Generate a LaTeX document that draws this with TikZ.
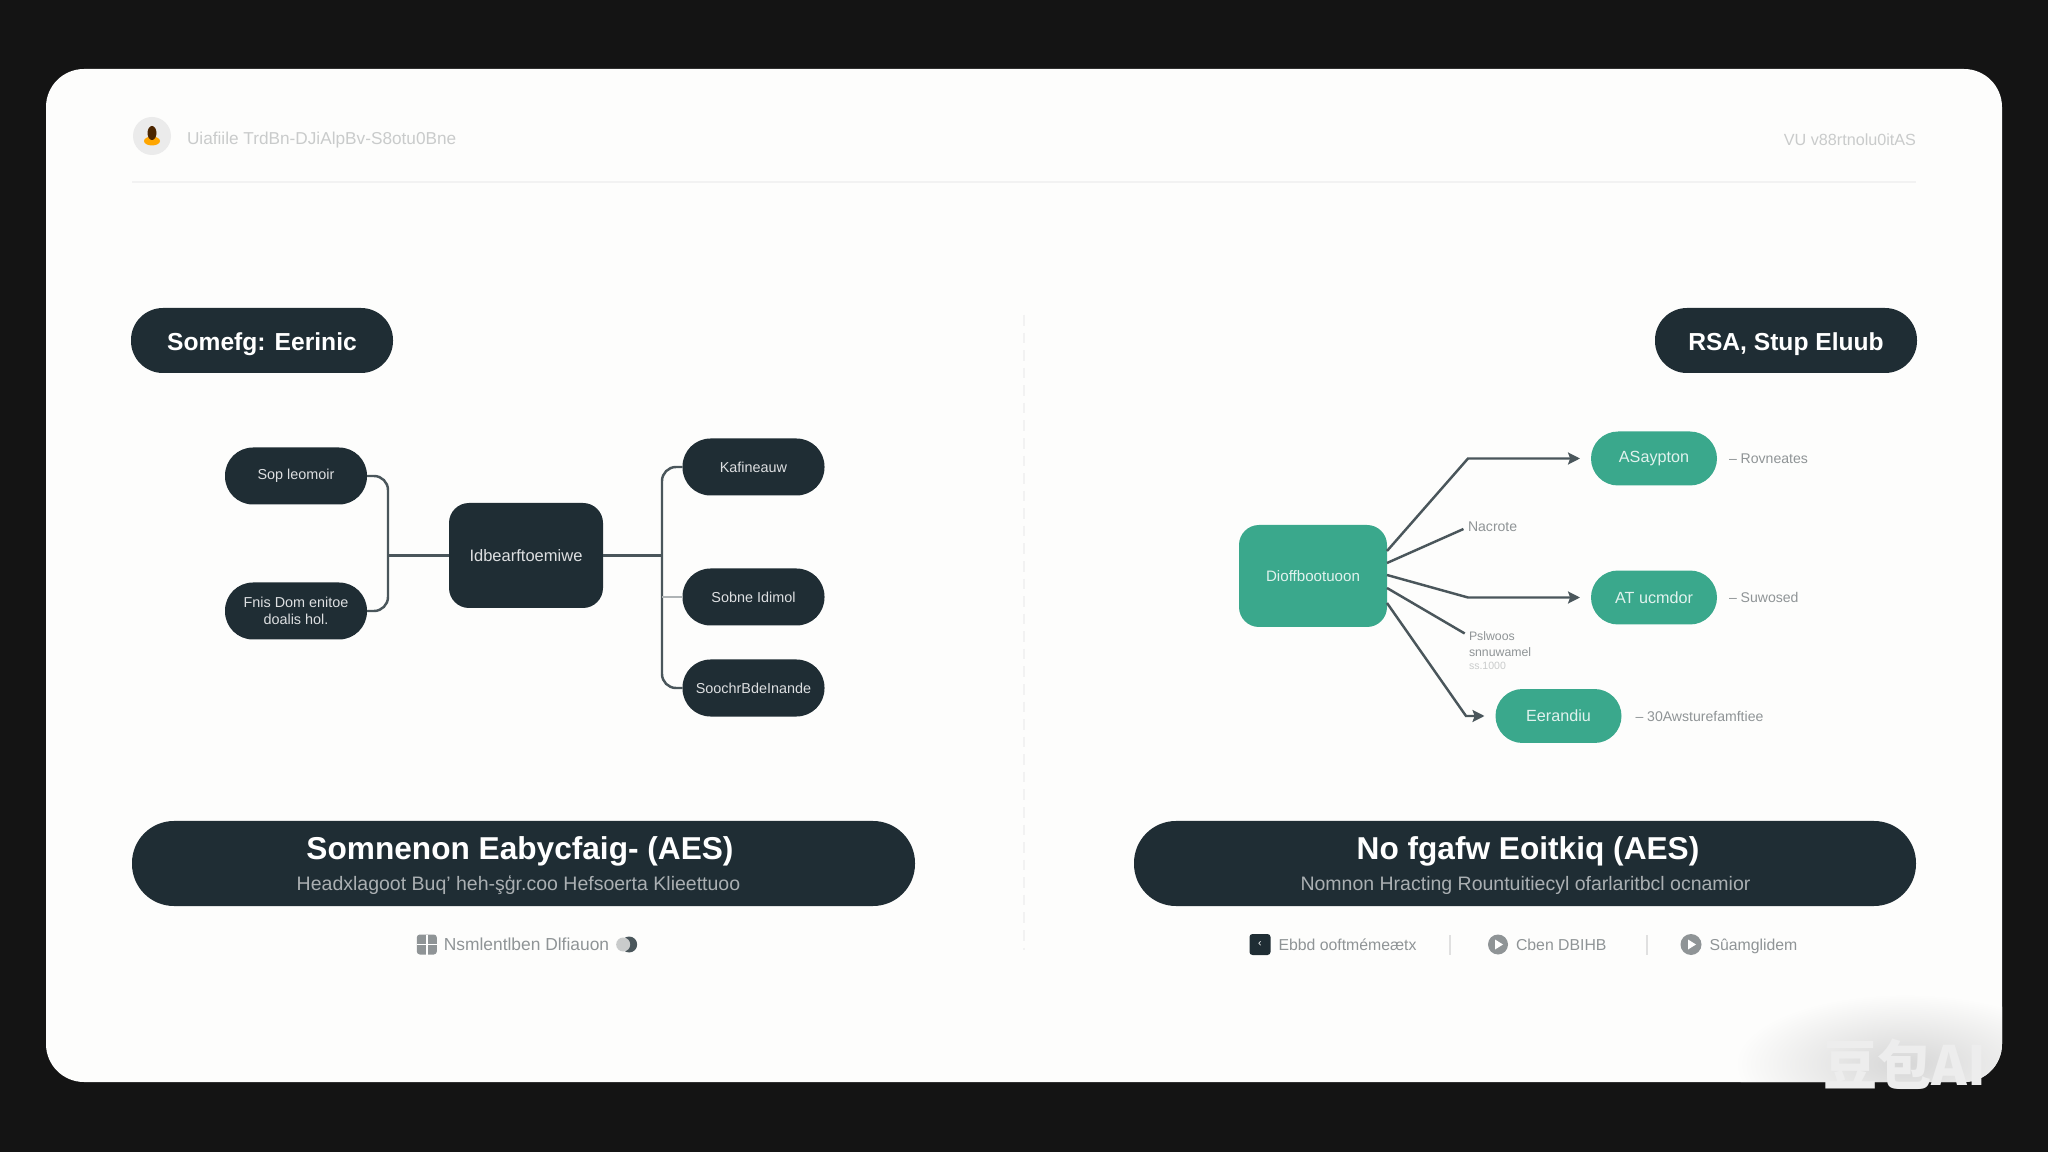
\documentclass[tikz,border=0pt]{standalone}
\usepackage{fontspec}
\setsansfont{Liberation Sans}
\newfontfamily\badgefont{Noto Sans CJK SC}
\usepackage{xcolor}
\usetikzlibrary{arrows.meta,positioning,calc}
\definecolor{slate}{HTML}{1F2D34}
\definecolor{jade}{HTML}{3AA88C}
\definecolor{wireink}{HTML}{4A565B}
\definecolor{mute}{HTML}{8F9496}
\definecolor{faint}{HTML}{C9CBCB}
\definecolor{paper}{HTML}{FDFDFC}
\definecolor{outside}{HTML}{141414}

\begin{document}
\begin{tikzpicture}[
    every node/.style={font=\sffamily, inner sep=0pt, outer sep=0pt},
    tagpill/.style={
      rectangle, rounded corners=0.32cm, fill=slate, text=white,
      minimum width=2.62cm, minimum height=0.65cm, align=center,
      text height=0.2cm, text depth=0cm,
      font=\sffamily\bfseries\fontsize{7.0}{9}\selectfont
    },
    darkbox/.style={
      rectangle, rounded corners=0.28cm, fill=slate, text=white!85!slate,
      minimum width=1.42cm, minimum height=0.57cm, align=center,
      font=\sffamily\fontsize{4.1}{5}\selectfont
    },
    darkcore/.style={
      rectangle, rounded corners=0.2cm, fill=slate, text=white!85!slate,
      minimum width=1.54cm, minimum height=1.05cm, align=center,
      font=\sffamily\fontsize{4.7}{5}\selectfont
    },
    greenbox/.style={
      rectangle, rounded corners=0.27cm, fill=jade, text=white!85!jade,
      minimum width=1.26cm, minimum height=0.54cm, align=center,
      font=\sffamily\fontsize{4.6}{5}\selectfont
    },
    greencore/.style={
      rectangle, rounded corners=0.2cm, fill=jade, text=white!85!jade,
      minimum width=1.48cm, minimum height=1.02cm, align=center,
      font=\sffamily\fontsize{4.3}{5}\selectfont
    },
    titlebar/.style={
      rectangle, rounded corners=0.42cm, fill=slate,
      minimum height=0.85cm
    },
    bartitle/.style={text=white, font=\sffamily\bfseries\fontsize{9}{11}\selectfont},
    barsub/.style={text=white!62!slate, font=\sffamily\fontsize{5.55}{6}\selectfont},
    sidenote/.style={text=mute, font=\sffamily\fontsize{4}{5}\selectfont},
    midnote/.style={text=mute, font=\sffamily\fontsize{3.5}{5}\selectfont},
    footnote/.style={text=mute, text height=0.12cm, text depth=0cm, font=\sffamily\fontsize{4.5}{5}\selectfont},
    headnote/.style={text=faint, font=\sffamily\fontsize{4.9}{5}\selectfont},
    bus/.style={draw=wireink, line width=0.7pt, rounded corners=0.14cm},
    feedarr/.style={wireink, line width=0.7pt, -{Stealth[length=3.4pt,width=3.4pt,inset=0.6pt]}, shorten >=0.11cm},
    feedline/.style={wireink, line width=0.7pt}
  ]
    \useasboundingbox (0,0) rectangle (20.48,-11.52);
    \fill[outside] (0,0) rectangle (20.48,-11.52);
    \fill[paper, rounded corners=0.38cm] (0.46,-0.69) rectangle (20.02,-10.82);

    % Soft patch behind the badge
    \begin{scope}
      \clip[rounded corners=0.38cm] (0.46,-0.69) rectangle (20.02,-10.82);
      \shade[inner color=black!16, outer color=paper] (19.05,-10.64) ellipse (1.7cm and 0.7cm);
    \end{scope}

    % Header
    \node[circle, fill=black!8, minimum size=0.38cm] (logo) at (1.52,-1.36) {};
    \fill[orange!70!yellow] ([yshift=-0.05cm]logo.center) ellipse (0.08cm and 0.045cm);
    \fill[black!70!orange] ([yshift=0.03cm]logo.center) ellipse (0.045cm and 0.07cm);
    \node[headnote, right=0.16cm of logo, yshift=-0.04cm] (headleft) {Uiafiile TrdBn-DJiAlpBv-S8otu0Bne};
    \node[headnote, anchor=east, font=\sffamily\fontsize{4.6}{5}\selectfont] (headright) at (19.16,-1.4) {VU v88rtnolu0itAS};
    \draw[black!5, line width=0.4pt] (1.32,-1.82) -- (19.16,-1.82);
    \draw[black!5, line width=0.4pt, densely dashed] (10.24,-3.15) -- (10.24,-9.5);

    % Left side
    \node[tagpill] (lefttag) at (2.62,-3.405) {Somefg: Eerinic};
    \node[darkcore] (leftcore) at (5.26,-5.555) {Idbearftoemiwe};
    \node[darkbox] (l1) at (2.96,-4.76) {Sop leomoir};
    \node[darkbox, below=0.78cm of l1] (l2) {Fnis Dom enitoe\\doalis hol.};
    \node[darkbox] (r1) at (7.535,-4.67) {Kafineauw};
    \node[darkbox, below=0.73cm of r1] (r2) {Sobne Idimol};
    \node[darkbox, below=0.34cm of r2] (r3) {SoochrBdeInande};
    \coordinate (leftbus) at (3.88,-5.555);
    \coordinate (rightbus) at (6.62,-5.555);

    \draw[bus] (l1.east) -| (leftbus) |- (l2.east);
    \draw[bus] (leftbus) -- (leftcore.west);
    \draw[bus] (r1.west) -| (rightbus) |- (r3.west);
    \draw[bus] (leftcore.east) -- (rightbus);
    \draw[wireink!45, line width=0.5pt] (rightbus |- r2.west) -- (r2.west);

    \node[titlebar, minimum width=7.83cm] (leftbar) at (5.235,-8.635) {};
    \node[bartitle] (lefttitle) at (5.2,-8.515) {Somnenon Eabycfaig- (AES)};
    \node[barsub] (leftsub) at (5.185,-8.85) {Headxlagoot Buq' heh-şģr.coo Hefsoerta Klieettuoo};

    % Left footer
    \node[footnote, font=\sffamily\fontsize{4.95}{5}\selectfont] (leftfoot) at (5.265,-9.445) {Nsmlentlben Dlfiauon};
    \node[rectangle, rounded corners=0.03cm, fill=mute, minimum size=0.2cm, left=0.07cm of leftfoot] (footbox) {};
    \draw[white, line width=0.4pt] (footbox.west) -- (footbox.east) (footbox.north) -- (footbox.south);
    \node[circle, fill=wireink, minimum size=0.16cm, right=0.12cm of leftfoot] (footdot) {};
    \fill[faint] ([xshift=-0.06cm]footdot.center) circle (0.07cm);

    % Right side
    \node[tagpill] (righttag) at (17.86,-3.405) {RSA, Stup Eluub};
    \node[greencore] (src) at (13.13,-5.76) {Dioffbootuoon};
    \node[greenbox] (g1) at (16.54,-4.585) {ASaypton};
    \node[greenbox, below=0.85cm of g1] (g2) {AT ucmdor};
    \node[greenbox] (g3) at (15.585,-7.16) {Eerandiu};

    \node[sidenote, right=0.12cm of g1] (n1) {-- Rovneates};
    \node[sidenote, right=0.12cm of g2] (n2) {-- Suwosed};
    \node[sidenote, right=0.14cm of g3] (n3) {-- 30Awsturefamftiee};
    \node[sidenote, anchor=west] (mid1) at (14.68,-5.27) {Nacrote};
    \node[midnote, anchor=west] (mid2) at (14.69,-6.36) {Pslwoos};
    \node[midnote, below=0.07cm of mid2.south west, anchor=north west] (mid3) {snnuwamel};
    \node[midnote, below=0.06cm of mid3.south west, anchor=north west, text=faint, font=\sffamily\fontsize{3}{4}\selectfont] (mid4) {ss.1000};

    \coordinate (bend1) at (14.68,-4.585);
    \coordinate (bend2) at (14.68,-5.975);
    \coordinate (bend3) at (14.66,-7.16);

    \draw[feedarr] ([yshift=0.25cm]src.east) -- (bend1) -- (g1.west);
    \draw[feedline, shorten >=0.05cm] ([yshift=0.13cm]src.east) -- (mid1.west);
    \draw[feedarr] ([yshift=0.01cm]src.east) -- (bend2) -- (g2.west);
    \draw[feedline, shorten >=0.05cm] ([yshift=-0.12cm]src.east) -- (mid2.west);
    \draw[feedarr] ([yshift=-0.27cm]src.east) -- (bend3) -- (g3.west);

    \node[titlebar, minimum width=7.82cm] (rightbar) at (15.25,-8.635) {};
    \node[bartitle] (righttitle) at (15.28,-8.515) {No fgafw Eoitkiq (AES)};
    \node[barsub] (rightsub) at (15.255,-8.85) {Nomnon Hracting Rountuitiecyl ofarlaritbcl ocnamior};

    % Right footer
    \node[rectangle, rounded corners=0.03cm, fill=slate, text=white, minimum size=0.21cm, font=\sffamily\fontsize{3}{3}\selectfont] (foot1) at (12.6,-9.445) {‹};
    \node[footnote, right=0.08cm of foot1] (text1) {Ebbd ooftmémeætx};
    \node[circle, fill=mute, minimum size=0.2cm] (foot2) at (14.98,-9.445) {};
    \node[footnote, right=0.08cm of foot2] (text2) {Cben DBIHB};
    \node[circle, fill=mute, minimum size=0.21cm] (foot3) at (16.91,-9.445) {};
    \node[footnote, right=0.08cm of foot3] (text3) {Sûamglidem};
    \fill[white] ([xshift=-0.03cm,yshift=0.05cm]foot2.center) -- ([xshift=0.05cm]foot2.center) -- ([xshift=-0.03cm,yshift=-0.05cm]foot2.center) -- cycle;
    \fill[white] ([xshift=-0.03cm,yshift=0.05cm]foot3.center) -- ([xshift=0.05cm]foot3.center) -- ([xshift=-0.03cm,yshift=-0.05cm]foot3.center) -- cycle;
    \draw[black!12, line width=0.4pt] (14.5,-9.35) -- (14.5,-9.55);
    \draw[black!12, line width=0.4pt] (16.47,-9.35) -- (16.47,-9.55);

    % Badge
    \node[text=white!93!black, font=\badgefont\bfseries\fontsize{15.4}{16}\selectfont, anchor=center] (badge) at (19.05,-10.64) {豆包AI};
  \end{tikzpicture}
\end{document}
